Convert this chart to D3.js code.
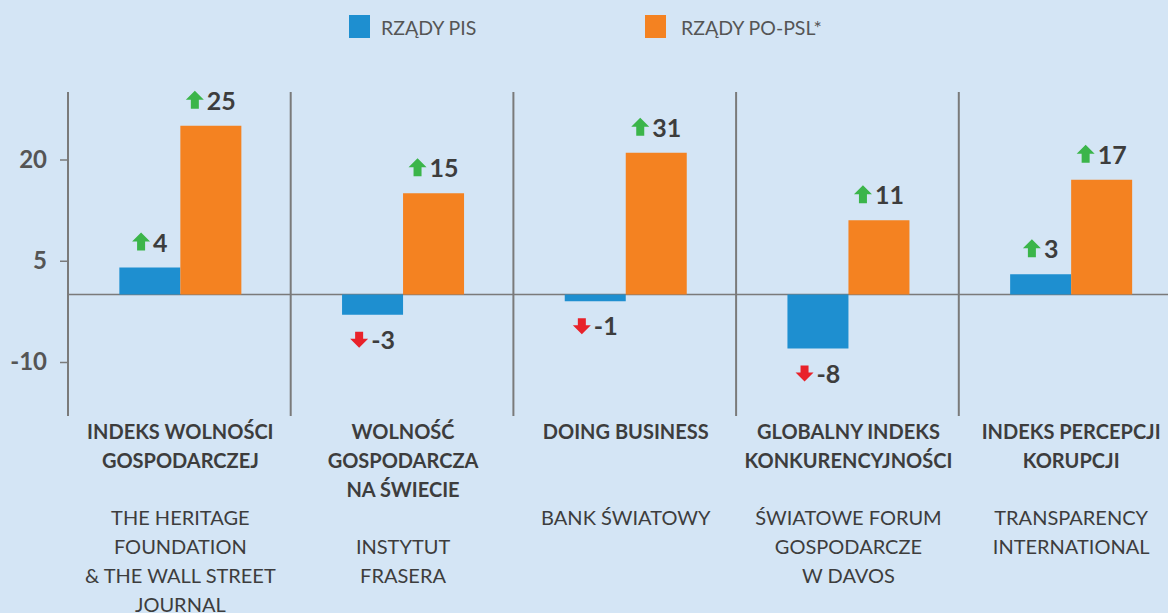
<!DOCTYPE html>
<html><head><meta charset="utf-8">
<script src="https://cdn.jsdelivr.net/npm/d3@7"></script>
<style>
html,body{margin:0;padding:0;background:#d4e5f5;}
svg{display:block;font-family:Lato,"Open Sans",sans-serif;}
</style></head>
<body>
<svg id="c" width="1168" height="613"></svg>
<script>
const categories = ["INDEKS WOLNOŚCI|GOSPODARCZEJ", "WOLNOŚĆ|GOSPODARCZA|NA ŚWIECIE", "DOING BUSINESS", "GLOBALNY INDEKS|KONKURENCYJNOŚCI", "INDEKS PERCEPCJI|KORUPCJI"];
const sources = ["THE HERITAGE|FOUNDATION|& THE WALL STREET|JOURNAL", "INSTYTUT|FRASERA", "BANK ŚWIATOWY", "ŚWIATOWE FORUM|GOSPODARCZE|W DAVOS", "TRANSPARENCY|INTERNATIONAL"];
const seriesNames = ["RZĄDY PIS", "RZĄDY PO-PSL*"];
const pisValues = [4, -3, -1, -8, 3];
const poValues = [25, 15, 21, 11, 17];      // drawn bar heights
const pisLabels = ["4", "-3", "-1", "-8", "3"];
const poLabels = ["25", "15", "31", "11", "17"];
const yTicks = [20, 5, -10];

const colors = ["#1e8fd0", "#f48221"];
const svg = d3.select("#c");
const left = 68, bandW = 222.7;
const x = d3.scaleBand().domain(d3.range(5)).range([left, left + bandW * 5]).paddingInner(0).paddingOuter(0);
const y = d3.scaleLinear().domain([-18, 30]).range([416, 92]);
const barW = 61;

// Legend
const legX = [349, 645], legTextX = [381, 681];
seriesNames.forEach((n, i) => {
  svg.append("rect").attr("x", legX[i]).attr("y", 15).attr("width", 21).attr("height", 23).attr("fill", colors[i]);
  svg.append("text").attr("x", legTextX[i]).attr("y", 35).attr("font-size", 19.5).attr("fill", "#555").text(n);
});

// vertical separators
d3.range(5).forEach(i => {
  svg.append("line").attr("x1", x(i)).attr("x2", x(i)).attr("y1", y.range()[1]).attr("y2", y.range()[0])
    .attr("stroke", "#7a7a7a").attr("stroke-width", 2);
});
// zero line
svg.append("line").attr("x1", left).attr("x2", 1168).attr("y1", y(0)).attr("y2", y(0)).attr("stroke", "#7a7a7a").attr("stroke-width", 1.5);

// y axis ticks
const axis = svg.append("g").attr("transform", `translate(${left},0)`)
  .call(d3.axisLeft(y).tickValues(yTicks).tickSize(8).tickPadding(13).tickFormat(d => String(d)));
axis.select(".domain").remove();
axis.selectAll("line").attr("stroke", "#7a7a7a").attr("stroke-width", 1.5);
axis.selectAll("text").attr("font-size", 24).attr("font-weight", "bold").attr("fill", "#555").attr("font-family", "Lato,'Open Sans',sans-serif");

// bars
const series = [pisValues, poValues];
const labels = [pisLabels, poLabels];
series.forEach((vals, s) => {
  vals.forEach((v, i) => {
    const cx = x(i) + bandW / 2 + 1;
    const bx = s === 0 ? cx - barW : cx;
    svg.append("rect").attr("x", bx).attr("width", barW)
      .attr("y", y(Math.max(0, v))).attr("height", Math.abs(y(v) - y(0)))
      .attr("fill", colors[s]);
    // label
    const lbl = labels[s][i];
    const up = !lbl.startsWith("-");
    const g = svg.append("g");
    const ty = up ? y(v) - 16 : y(v) + 34;
    const t = g.append("text").attr("y", ty).attr("font-size", 25).attr("font-weight", "bold").attr("fill", "#3d3d3d").text(lbl);
    const tw = t.node().getComputedTextLength();
    const aw = 18, gap = 3;
    const total = aw + gap + tw;
    const x0 = bx + barW / 2 - total / 2;
    t.attr("x", x0 + aw + gap);
    const ac = x0 + aw / 2;
    const top = ty - 19, bot = ty - 1;
    let pts;
    if (up) {
      pts = [[ac, top], [ac + 9, top + 9], [ac + 4, top + 9], [ac + 4, bot], [ac - 4, bot], [ac - 4, top + 9], [ac - 9, top + 9]];
    } else {
      pts = [[ac - 4, top + 2], [ac + 4, top + 2], [ac + 4, bot - 9], [ac + 9, bot - 9], [ac, bot], [ac - 9, bot - 9], [ac - 4, bot - 9]];
    }
    g.append("polygon").attr("points", pts.map(p => p.join(",")).join(" ")).attr("fill", up ? "#3bb54a" : "#e8222a");
  });
});

// category labels
const lh = 29;
categories.forEach((c, i) => {
  const cx = x(i) + bandW / 2 + 1;
  const lines = c.split("|");
  lines.forEach((l, k) => {
    svg.append("text").attr("x", cx).attr("y", 439 + k * lh).attr("text-anchor", "middle")
      .attr("font-size", 20).attr("font-weight", "bold").attr("fill", "#3d3d3d").text(l);
  });
  const start = 439 + Math.max(lines.length + 1, 3) * lh - 1;
  sources[i].split("|").forEach((l, k) => {
    svg.append("text").attr("x", cx).attr("y", start + k * lh).attr("text-anchor", "middle")
      .attr("font-size", 20).attr("fill", "#3d3d3d").text(l);
  });
});
</script>
</body></html>
